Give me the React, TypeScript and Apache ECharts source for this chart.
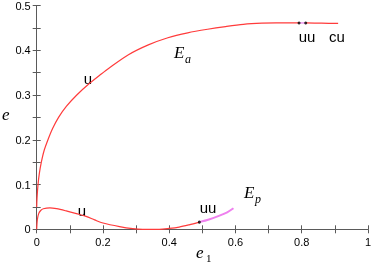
import React, { useEffect, useRef } from "react";
import * as echarts from "echarts";

// Upper branch E_a (unstable "u" part, red)
const eaRedA: [number, number][] = [
  [0, 0.05], [0.001, 0.07], [0.004, 0.1], [0.008, 0.125], [0.014, 0.15],
  [0.022, 0.175], [0.034, 0.2], [0.048, 0.225], [0.066, 0.25], [0.09, 0.275],
  [0.121, 0.3], [0.158, 0.325], [0.195, 0.347], [0.218, 0.36], [0.277, 0.39],
  [0.337, 0.412], [0.396, 0.428], [0.456, 0.439], [0.516, 0.447], [0.57, 0.453],
  [0.624, 0.458], [0.68, 0.4605], [0.723, 0.461], [0.792, 0.461],
];
// E_a "uu" segment (magenta)
const eaPink: [number, number][] = [[0.792, 0.461], [0.812, 0.461]];
// E_a "cu" segment (red)
const eaRedB: [number, number][] = [[0.812, 0.461], [0.86, 0.4605], [0.91, 0.46]];

// Lower branch E_p (red)
const epRed: [number, number][] = [
  [0, 0], [0.002, 0.022], [0.006, 0.035], [0.012, 0.042], [0.02, 0.046],
  [0.04, 0.048], [0.06, 0.046], [0.089, 0.041], [0.12, 0.035], [0.149, 0.029],
  [0.175, 0.021], [0.2, 0.014], [0.25, 0.006], [0.29, 0.0015], [0.32, 0],
  [0.37, 0], [0.4, 0.002], [0.43, 0.005], [0.46, 0.01], [0.491, 0.016],
];
// E_p "uu" segment (magenta)
const epPink: [number, number][] = [
  [0.491, 0.016], [0.52, 0.022], [0.55, 0.03], [0.575, 0.038], [0.594, 0.047],
];
// Bifurcation points
const dots: [number, number][] = [[0.792, 0.461], [0.812, 0.461], [0.491, 0.016]];

const xTicks = { min: 0, max: 1, interval: 0.2 };
const yTicks = { min: 0, max: 0.5, interval: 0.1 };

const RED = "#ff3b3b";
const PINK = "#ee80ee";
const AXIS = "#5a5a5a";

export default function App() {
  const ref = useRef<HTMLDivElement>(null);
  useEffect(() => {
    const chart = echarts.init(ref.current!, null, { renderer: "svg" });
    const lineStyleAxis = { show: true, lineStyle: { color: AXIS, width: 1 } };
    const tick = { show: true, inside: true, length: 4, lineStyle: { color: AXIS } };
    const minor = { show: true, splitNumber: 2, length: 4, lineStyle: { color: AXIS } };
    const lbl = { color: "#000", fontSize: 11, fontFamily: "Liberation Sans, Arial, sans-serif" };
    const line = (data: [number, number][], color: string) => ({
      type: "line",
      data,
      smooth: 0.3,
      showSymbol: false,
      lineStyle: { color, width: 1.2 },
      z: 2,
    });
    const sans = (text: string, x: number, y: number) => ({
      type: "text", x, y,
      style: { text, font: "15px Liberation Sans", fill: "#000", textAlign: "center", textVerticalAlign: "middle" },
    });
    const ital = (text: string, x: number, y: number, size: number, italic = true) => ({
      type: "text", x, y,
      style: { text, font: `${italic ? "italic " : ""}${size}px Liberation Serif`, fill: "#000", textVerticalAlign: "top" },
    });
    chart.setOption({
      animation: false,
      grid: { left: 36.7, right: 1.5, top: 5, bottom: 35.7, containLabel: false },
      xAxis: [
        {
          type: "value", ...xTicks, position: "bottom",
          axisLine: lineStyleAxis, axisTick: tick, minorTick: minor,
          splitLine: { show: false }, minorSplitLine: { show: false },
          axisLabel: { ...lbl, margin: 7 },
        },
        {
          type: "value", ...xTicks, position: "top",
          axisLine: lineStyleAxis, axisTick: tick, minorTick: minor,
          splitLine: { show: false }, axisLabel: { show: false },
        },
      ],
      yAxis: [
        {
          type: "value", ...yTicks, position: "left",
          axisLine: lineStyleAxis, axisTick: tick, minorTick: minor,
          splitLine: { show: false }, axisLabel: { ...lbl, margin: 6 },
        },
        {
          type: "value", ...yTicks, position: "right",
          axisLine: lineStyleAxis, axisTick: tick, minorTick: minor,
          splitLine: { show: false }, axisLabel: { show: false },
        },
      ],
      series: [
        line(eaRedA, RED),
        line(eaPink, PINK),
        line(eaRedB, RED),
        line(epRed, RED),
        { ...line(epPink, PINK), lineStyle: { color: PINK, width: 2 } },
        {
          type: "scatter", data: dots, symbolSize: 3,
          itemStyle: { color: "#000" }, z: 5,
        },
      ],
      graphic: [
        sans("u", 88, 78),
        sans("u", 82, 210),
        sans("uu", 208, 207),
        sans("uu", 307, 36),
        sans("cu", 337, 36),
        ital("E", 174, 44, 17),
        ital("a", 185, 53, 12),
        ital("E", 244, 184, 17),
        ital("p", 255, 193, 12),
        ital("e", 2, 106, 17),
        ital("e", 196, 244, 17),
        ital("1", 206, 252, 11, false),
      ],
    });
    return () => chart.dispose();
  }, []);
  return <div ref={ref} style={{ position: "fixed", left: 0, top: 0, width: 374, height: 265 }} />;
}
